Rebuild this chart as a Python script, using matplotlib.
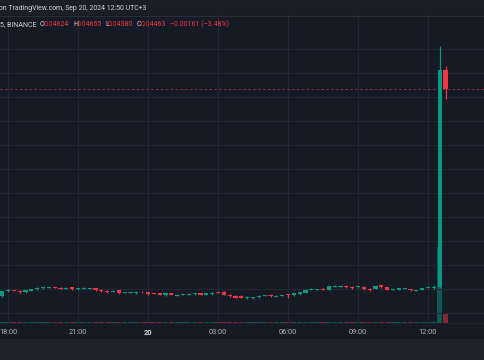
import matplotlib
matplotlib.use("Agg")
import matplotlib.pyplot as plt
from matplotlib.patches import Rectangle
from matplotlib.lines import Line2D

# ---------------- data (15-min candles, 17:45 -> 12:45) ----------------
opens = [0.02739, 0.02781, 0.02789, 0.02786, 0.02772, 0.02786, 0.02797, 0.02806, 0.02808, 0.02814,
         0.02811, 0.02803, 0.02814, 0.02797, 0.02806, 0.02806, 0.02808, 0.02794, 0.02786, 0.02775,
         0.02792, 0.02769, 0.02769, 0.02764, 0.02778, 0.02775, 0.02764, 0.02764, 0.02753, 0.02764,
         0.02742, 0.02753, 0.02750, 0.02756, 0.02764, 0.02750, 0.02756, 0.02772, 0.02778, 0.02753,
         0.02744, 0.02744, 0.02722, 0.02722, 0.02731, 0.02747, 0.02753, 0.02733, 0.02742, 0.02756,
         0.02747, 0.02756, 0.02767, 0.02792, 0.02797, 0.02803, 0.02792, 0.02817, 0.02817, 0.02828,
         0.02819, 0.02814, 0.02819, 0.02803, 0.02800, 0.02831, 0.02814, 0.02792, 0.02794, 0.02806,
         0.02800, 0.02786, 0.02794, 0.02814, 0.02814, 0.02817, 0.04624]
closes = [0.02781, 0.02794, 0.02783, 0.02772, 0.02792, 0.02800, 0.02811, 0.02817, 0.02814, 0.02808,
          0.02803, 0.02811, 0.02797, 0.02808, 0.02808, 0.02808, 0.02789, 0.02781, 0.02772, 0.02786,
          0.02764, 0.02772, 0.02772, 0.02778, 0.02772, 0.02758, 0.02758, 0.02750, 0.02767, 0.02750,
          0.02753, 0.02756, 0.02761, 0.02767, 0.02750, 0.02764, 0.02769, 0.02767, 0.02753, 0.02739,
          0.02728, 0.02728, 0.02736, 0.02733, 0.02744, 0.02750, 0.02739, 0.02744, 0.02750, 0.02750,
          0.02767, 0.02772, 0.02794, 0.02803, 0.02800, 0.02792, 0.02822, 0.02828, 0.02828, 0.02814,
          0.02806, 0.02825, 0.02797, 0.02789, 0.02828, 0.02814, 0.02792, 0.02794, 0.02806, 0.02808,
          0.02789, 0.02789, 0.02808, 0.02817, 0.02817, 0.04624, 0.04463]
highs = [0.02783, 0.02797, 0.02794, 0.02789, 0.02794, 0.02803, 0.02814, 0.02819, 0.02817, 0.02817,
         0.02817, 0.02814, 0.02817, 0.02811, 0.02814, 0.02811, 0.02811, 0.02797, 0.02789, 0.02789,
         0.02794, 0.02778, 0.02775, 0.02781, 0.02781, 0.02778, 0.02767, 0.02767, 0.02769, 0.02767,
         0.02756, 0.02758, 0.02764, 0.02769, 0.02769, 0.02767, 0.02772, 0.02775, 0.02781, 0.02756,
         0.02747, 0.02747, 0.02739, 0.02736, 0.02747, 0.02753, 0.02756, 0.02747, 0.02753, 0.02758,
         0.02769, 0.02775, 0.02797, 0.02806, 0.02803, 0.02806, 0.02825, 0.02831, 0.02831, 0.02831,
         0.02822, 0.02828, 0.02822, 0.02806, 0.02831, 0.02833, 0.02817, 0.02797, 0.02808, 0.02811,
         0.02803, 0.02792, 0.02811, 0.02822, 0.02836, 0.04825, 0.04655]
lows = [0.02736, 0.02778, 0.02781, 0.02769, 0.02769, 0.02783, 0.02794, 0.02803, 0.02806, 0.02806,
        0.02800, 0.02800, 0.02794, 0.02794, 0.02803, 0.02803, 0.02781, 0.02778, 0.02769, 0.02772,
        0.02761, 0.02764, 0.02767, 0.02761, 0.02769, 0.02753, 0.02756, 0.02747, 0.02739, 0.02747,
        0.02739, 0.02750, 0.02747, 0.02753, 0.02747, 0.02747, 0.02753, 0.02764, 0.02750, 0.02733,
        0.02725, 0.02725, 0.02719, 0.02719, 0.02728, 0.02744, 0.02736, 0.02731, 0.02739, 0.02722,
        0.02744, 0.02753, 0.02764, 0.02789, 0.02794, 0.02789, 0.02789, 0.02814, 0.02814, 0.02811,
        0.02803, 0.02811, 0.02794, 0.02786, 0.02797, 0.02811, 0.02789, 0.02789, 0.02792, 0.02803,
        0.02786, 0.02781, 0.02792, 0.02811, 0.02800, 0.02811, 0.04380]
volumes = [1.4, 1.0, 0.9, 1.1, 1.0, 0.9, 1.2, 1.0, 0.8, 0.9,
           1.0, 0.8, 1.1, 0.9, 0.7, 0.7, 1.2, 1.0, 1.1, 0.8,
           1.3, 0.7, 0.7, 0.9, 0.7, 1.0, 0.8, 1.0, 0.9, 1.0,
           0.8, 0.7, 0.8, 0.9, 1.0, 0.9, 0.9, 0.8, 1.4, 1.1,
           1.0, 1.0, 0.9, 0.8, 0.9, 0.7, 1.0, 0.8, 0.8, 0.9,
           1.0, 1.0, 1.3, 0.9, 0.7, 0.9, 1.4, 1.0, 1.0, 1.0,
           1.0, 0.9, 1.3, 1.1, 1.4, 1.2, 1.2, 0.7, 0.9, 0.7,
           0.9, 0.7, 0.9, 0.7, 0.9, 76.0, 10.0]
tick_pos = [1, 13, 25, 37, 49, 61, 73]
tick_labels = ["18:00", "21:00", "20", "03:00", "06:00", "09:00", "12:00"]
price_grid = [0.026, 0.028, 0.030, 0.032, 0.034, 0.036, 0.038, 0.040, 0.042, 0.044, 0.046, 0.048]
last_price = 0.04463
header_text = "on TradingView.com, Sep 20, 2024 12:50 UTC+3"
legend_parts = [("5, BINANCE", 0, "label"), ("O", 40, "label"), ("0.04624", 44, "value"),
                ("H", 73, "label"), ("0.04655", 77, "value"),
                ("L", 105, "label"), ("0.04380", 108, "value"),
                ("C", 137, "label"), ("0.04463", 141, "value"),
                ("\u22120.00161 (\u22123.48%)", 170, "value")]

# ---------------- style ----------------
BG = "#161a25"
UP = "#089981"
DN = "#f23645"
GRID = "#232733"
TXT = "#d1d4dc"
plt.rcParams['font.family'] = ['Roboto', 'DejaVu Sans']

W, H = 485, 360
fig = plt.figure(figsize=(W / 100, H / 100), dpi=100)
fig.patch.set_facecolor(BG)

rect = [0, 37 / H, 1, 308 / H]
axv = fig.add_axes(rect)
ax = fig.add_axes(rect, sharex=axv)
axv.set_facecolor(BG)
ax.set_facecolor("none")

n = len(opens)
xs = list(range(n))
up = [c >= o for o, c in zip(opens, closes)]

# volume
vcol = [(0.031, 0.6, 0.506, 0.5) if u else (0.949, 0.212, 0.271, 0.5) for u in up]
axv.bar(xs, volumes, width=0.86, color=vcol, linewidth=0)
axv.set_ylim(0, max(volumes) * 308 / 76)
axv.set_yticks([])
for s in axv.spines.values():
    s.set_visible(False)
axv.tick_params(axis='x', length=0, labelbottom=False)

# grid
for g in price_grid:
    ax.axhline(g, color=GRID, lw=0.8, zorder=0)
for t in tick_pos:
    ax.axvline(t, color=GRID, lw=0.8, zorder=0)

# candles
min_body = 0.00007
for x, o, c, h, l, u in zip(xs, opens, closes, highs, lows, up):
    col = UP if u else DN
    ax.vlines(x, l, h, color=col, lw=0.85, zorder=2)
    mid = (o + c) / 2
    hgt = max(abs(c - o), min_body)
    ax.bar(x, hgt, bottom=mid - hgt / 2, width=0.72, color=col, linewidth=0, zorder=3)

# last price line
ax.axhline(last_price, color=DN, lw=0.7, ls=(0, (2.5, 2.5)), alpha=0.6, zorder=1)

ax.set_xlim(-0.372, 82.77)
ax.set_ylim(0.025167, 0.050833)
ax.set_yticks([])
for s in ax.spines.values():
    s.set_visible(False)
ax.set_xticks(tick_pos)
ax.set_xticklabels(tick_labels)
ax.tick_params(axis='x', length=0, pad=4.2, labelsize=5.3, labelcolor="#b2b5be")
for lab in ax.get_xticklabels():
    if lab.get_text() == "20":
        lab.set_fontweight("bold")
        lab.set_color(TXT)

# header bar and bottom strip
fig.patches.append(Rectangle((0, (H - 15) / H), 1, 15 / H, transform=fig.transFigure,
                             facecolor="#1b1e29", edgecolor="none", zorder=-1))
fig.lines.append(Line2D([0, 1], [(H - 15.5) / H] * 2, transform=fig.transFigure,
                        color="#2a2e39", lw=0.8))
fig.patches.append(Rectangle((0, 0), 1, 21 / H, transform=fig.transFigure,
                             facecolor="#1f222c", edgecolor="none", zorder=-1))
fig.lines.append(Line2D([0, 1], [(H - 323) / H] * 2, transform=fig.transFigure,
                        color="#1e222d", lw=0.8))

fig.text(-1 / W, (H - 9) / H, header_text, color=TXT, fontsize=4.95, va="center", ha="left")
for txt, px, kind in legend_parts:
    fig.text(px / W, (H - 24.5) / H, txt, color=DN if kind == "value" else TXT,
             fontsize=5.0, va="center", ha="left")

fig.savefig("out.png", dpi=100, facecolor=fig.get_facecolor())
